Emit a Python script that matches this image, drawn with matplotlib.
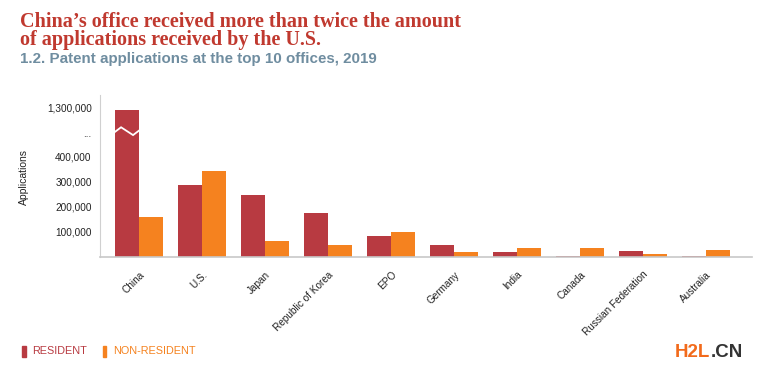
import numpy as np
import matplotlib.pyplot as plt

offices = ['China', 'U.S.', 'Japan', 'Republic of Korea', 'EPO', 'Germany',
           'India', 'Canada', 'Russian Federation', 'Australia']
resident = [1243568, 286000, 248000, 174000, 83000, 49000, 21000, 4000, 25000, 2500]
non_resident = [159000, 340000, 64000, 48000, 100000, 21000, 36000, 34000, 13000, 29000]

y_ticks = [100000, 200000, 300000, 400000, 824000, 1300000]
y_tick_labels = ['100,000', '200,000', '300,000', '400,000', '...', '1,300,000']

RED = '#b83a41'
ORANGE = '#f5821f'

# broken axis: linear up to 400k, compressed above
BREAK = 400000
K = 0.2167


def fwd(v):
    v = np.asarray(v, dtype=float)
    return np.where(v <= BREAK, v, BREAK + (v - BREAK) * K)


def inv(d):
    d = np.asarray(d, dtype=float)
    return np.where(d <= BREAK, d, BREAK + (d - BREAK) / K)


plt.rcParams['font.family'] = ['Liberation Sans', 'DejaVu Sans']

fig = plt.figure(figsize=(7.6, 3.76), dpi=100)
ax = fig.add_axes([100 / 760, 1 - 257 / 376, 652 / 760, 162 / 376])
ax.set_yscale('function', functions=(fwd, inv))

x = np.arange(len(offices))
w = 0.381
ax.bar(x - w / 2, resident, w, color=RED, linewidth=0)
ax.bar(x + w / 2, non_resident, w, color=ORANGE, linewidth=0)

ax.set_xlim(-0.62, len(offices) - 1 + 0.73)
ax.set_ylim(0, inv(643000))

# zigzag on the China bar where the axis is broken
dots = float(fwd(y_ticks[4]))
zx = [x[0] - w, x[0] - w * 0.75, x[0] - w * 0.25, x[0]]
zy = inv([dots + 5000, dots + 23000, dots - 8000, dots + 10000])
ax.plot(zx, zy, color='white', lw=1.3, solid_joinstyle='miter')

ax.set_yticks(y_ticks)
ax.set_yticklabels(y_tick_labels)
ax.yaxis.set_minor_locator(plt.NullLocator())
ax.set_xticks(x)
ax.set_xticklabels(offices, rotation=45, ha='right', va='top',
                   rotation_mode='anchor')
ax.tick_params(axis='both', length=0, labelsize=7.2, colors='#222222')
ax.tick_params(axis='y', pad=6)
ax.tick_params(axis='x', pad=9)

for s in ['top', 'right']:
    ax.spines[s].set_visible(False)
ax.spines['left'].set_color('#d0d0d0')
ax.spines['bottom'].set_color('#c8c8c8')
ax.spines['bottom'].set_linewidth(1.2)

fig.text(24 / 760, 1 - 177 / 376, 'Applications', rotation=90, ha='center',
         va='center', fontsize=7.5, color='#222222')

# titles
serif = ['Liberation Serif', 'DejaVu Serif']
fig.text(20 / 760, 1 - 27 / 376, 'China\u2019s office received more than twice the amount',
         fontsize=14.5, fontweight='bold', color='#c0392f', family=serif)
fig.text(20 / 760, 1 - 45.5 / 376, 'of applications received by the U.S.',
         fontsize=14.5, fontweight='bold', color='#c0392f', family=serif)
fig.text(20 / 760, 1 - 63.5 / 376, '1.2. Patent applications at the top 10 offices, 2019',
         fontsize=10.9, fontweight='bold', color='#6f8da0')

# legend
fig.patches.append(plt.Rectangle((22 / 760, 1 - 357 / 376), 3.5 / 760, 11 / 376,
                                 transform=fig.transFigure, color=RED))
fig.text(32 / 760, 1 - 351.5 / 376, 'RESIDENT', fontsize=7.8, color=RED, va='center')
fig.patches.append(plt.Rectangle((103 / 760, 1 - 357 / 376), 3.5 / 760, 11 / 376,
                                 transform=fig.transFigure, color=ORANGE))
fig.text(113 / 760, 1 - 351.5 / 376, 'NON-RESIDENT', fontsize=7.8, color=ORANGE, va='center')

# watermark
t = fig.text(675 / 760, 1 - 352.5 / 376, 'H2L', fontsize=13.5, fontweight='bold',
             color='#f26a1b', va='center')
fig.canvas.draw()
bb = t.get_window_extent()
fig.text(bb.x1 / 760, 1 - 352.5 / 376, '.CN', fontsize=13.5, fontweight='bold',
         color='#333333', va='center')

fig.savefig('out.png', dpi=100)
